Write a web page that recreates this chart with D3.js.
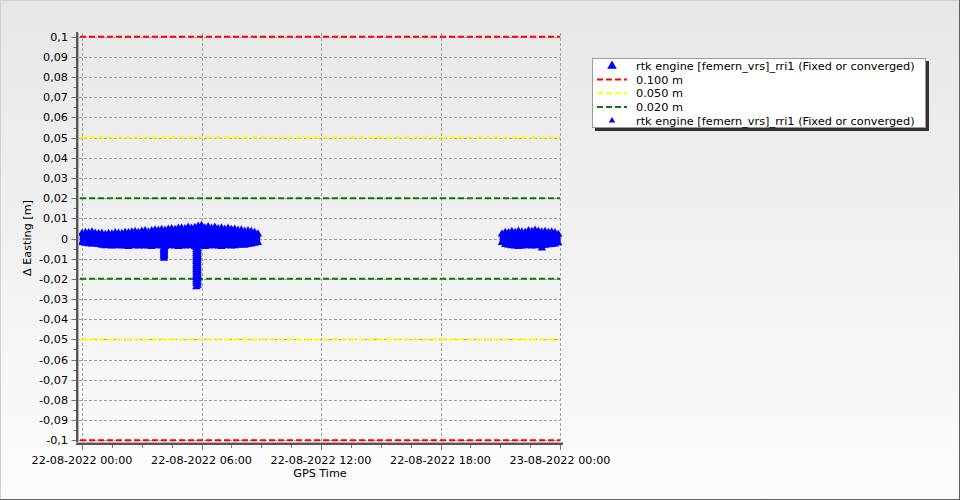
<!DOCTYPE html>
<html><head><meta charset="utf-8">
<script src="https://cdn.jsdelivr.net/npm/d3@7"></script>
<style>html,body{margin:0;padding:0;background:#fff}svg{display:block}text{font-family:"DejaVu Sans",Verdana,sans-serif;fill:#000}</style>
</head><body>
<svg id="c" width="960" height="500"></svg>
<script>
// ---- data ----
const xTickHours = [0, 6, 12, 18, 24];
const xTickLabels = ["22-08-2022 00:00", "22-08-2022 06:00", "22-08-2022 12:00", "22-08-2022 18:00", "23-08-2022 00:00"];
const yTicks = [0.1,0.09,0.08,0.07,0.06,0.05,0.04,0.03,0.02,0.01,0,-0.01,-0.02,-0.03,-0.04,-0.05,-0.06,-0.07,-0.08,-0.09,-0.1];
const seriesName = "rtk engine [femern_vrs]_rri1 (Fixed or converged)";
const thresholds = [0.1, 0.05, 0.02];
const thresholdLabels = ["0.100 m", "0.050 m", "0.020 m"];
const thresholdColors = ["#ff0000", "#ffff00", "#008000"];

// 10-minute bins, envelope (max / min) of Δ Easting [m]
const seg1Start = 0;          // hours
const seg1High = [0.0025,0.0030,0.0028,0.0032,0.0026,0.0024, 0.0026,0.0020,0.0024,0.0022,0.0028,0.0026,
  0.0024,0.0030,0.0028,0.0032,0.0034,0.0030, 0.0036,0.0038,0.0032,0.0038,0.0042,0.0040,
  0.0044,0.0040,0.0046,0.0048,0.0044,0.0050, 0.0052,0.0048,0.0056,0.0050,0.0054,0.0060,
  0.0064,0.0052,0.0058,0.0050,0.0056,0.0048, 0.0052,0.0046,0.0050,0.0044,0.0046,0.0040,
  0.0042,0.0036,0.0038,0.0034,0.0030,0.0022];
const seg1Low = [-0.0020,-0.0024,-0.0026,-0.0028,-0.0026,-0.0030, -0.0034,-0.0036,-0.0032,-0.0038,-0.0036,-0.0034,
  -0.0038,-0.0036,-0.0040,-0.0034,-0.0036,-0.0038, -0.0034,-0.0038,-0.0036,-0.0040,-0.0036,-0.0034,
  -0.0038,-0.0040,-0.0036,-0.0034,-0.0038,-0.0040, -0.0036,-0.0038,-0.0034,-0.0036,-0.0040,-0.0038,
  -0.0036,-0.0040,-0.0038,-0.0034,-0.0036,-0.0038, -0.0040,-0.0036,-0.0034,-0.0038,-0.0036,-0.0034,
  -0.0032,-0.0034,-0.0030,-0.0028,-0.0024,-0.0020];
const seg2Start = 21.083;     // hours
const seg2High = [0.0022,0.0030,0.0028,0.0034,0.0030,0.0036,0.0032,0.0030,0.0038,0.0034,0.0040,0.0036,0.0032,0.0034,0.0030,0.0032,0.0028,0.0020];
const seg2Low = [-0.0020,-0.0030,-0.0034,-0.0036,-0.0038,-0.0040,-0.0038,-0.0036,-0.0034,-0.0038,-0.0036,-0.0034,-0.0036,-0.0034,-0.0032,-0.0030,-0.0028,-0.0022];
const binHours = 1/6;

// individual outlying epochs [hour, value]
const outlierHours = [4.12,4.12,4.12,4.12,4.12,4.12,4.12,4.12,4.12,4.12,4.12,
  5.74,5.74,5.74,5.74,5.74,5.74,5.74,5.74,5.74,5.74,5.74,5.74,5.74,5.74,5.74,5.74,5.74,5.74,5.74,5.74,
  5.81,5.81,5.81,5.81,5.81,5.81,5.81,5.81,5.81,5.81,5.81,5.81,5.81,5.81,5.81,5.81,5.81,5.81,5.81,
  23.09];
const outlierValues = [-0.0045,-0.0050,-0.0055,-0.0060,-0.0065,-0.0070,-0.0075,-0.0080,-0.0085,-0.0090,-0.0098,
  -0.0045,-0.0055,-0.0065,-0.0075,-0.0085,-0.0095,-0.0105,-0.0115,-0.0125,-0.0135,-0.0145,-0.0155,-0.0165,-0.0175,-0.0185,-0.0195,-0.0205,-0.0215,-0.0225,-0.0240,
  -0.0050,-0.0060,-0.0070,-0.0080,-0.0090,-0.0100,-0.0110,-0.0120,-0.0130,-0.0140,-0.0150,-0.0160,-0.0170,-0.0180,-0.0190,-0.0200,-0.0210,-0.0220,-0.0232,
  -0.0048];

// ---- drawing ----
const svg = d3.select("#c");
const W = 960, H = 500;
const defs = svg.append("defs");
const g1 = defs.append("linearGradient").attr("id","bg").attr("x1",0).attr("y1",0).attr("x2",0).attr("y2",1);
g1.append("stop").attr("offset","0%").attr("stop-color","#e7e7e7");
g1.append("stop").attr("offset","100%").attr("stop-color","#fcfcfc");
svg.append("rect").attr("width",W).attr("height",H).attr("fill","url(#bg)");
// frame
svg.append("line").attr("x1",0.5).attr("y1",0).attr("x2",0.5).attr("y2",H).attr("stroke","#d0d0d0");
svg.append("line").attr("x1",0).attr("y1",0.5).attr("x2",W).attr("y2",0.5).attr("stroke","#d0d0d0");
svg.append("line").attr("x1",W-0.5).attr("y1",0).attr("x2",W-0.5).attr("y2",H).attr("stroke","#606060");
svg.append("line").attr("x1",0).attr("y1",H-0.5).attr("x2",W).attr("y2",H-0.5).attr("stroke","#606060");

const x = d3.scaleLinear().domain([0,24]).range([82,560]);
const y = d3.scaleLinear().domain([-0.1,0.1]).range([440.3,36.7]);
const fmtY = v => Math.abs(v) < 1e-9 ? "0" : String(+v.toFixed(2)).replace(".", ",");

// grid
const grid = svg.append("g").attr("stroke","#a0a0a0").attr("stroke-width",1).attr("stroke-dasharray","3,2");
yTicks.forEach(v => grid.append("line").attr("x1",79).attr("x2",560.5)
  .attr("y1",Math.round(y(v))+0.5).attr("y2",Math.round(y(v))+0.5));
xTickHours.forEach(h => grid.append("line").attr("y1",33).attr("y2",443)
  .attr("x1",Math.round(x(h))+0.5).attr("x2",Math.round(x(h))+0.5));

// threshold lines
thresholds.forEach((t,i) => {
  [t,-t].forEach(v => svg.append("line").attr("x1",80).attr("x2",560)
    .attr("y1",y(v)).attr("y2",y(v)).attr("stroke",thresholdColors[i])
    .attr("stroke-width",2).attr("stroke-dasharray","6,3"));
});

// data
const blue = "#0000ff";
const tri = d3.symbol().type(d3.symbolTriangle).size(30);
const dataG = svg.append("g");
function drawSeg(start, hi, lo){
  const w = x(binHours) - x(0);
  hi.forEach((h,i) => {
    const t = start + i*binHours;
    dataG.append("rect").attr("x",x(t)-w/2-0.6).attr("width",w+1.2)
      .attr("y",y(h)).attr("height",y(lo[i])-y(h)).attr("fill",blue);
    dataG.append("path").attr("d",tri()).attr("fill",blue).attr("transform",`translate(${x(t)},${y(h)})`);
    dataG.append("path").attr("d",tri()).attr("fill",blue).attr("transform",`translate(${x(t)},${y(lo[i])})`);
  });
}
drawSeg(seg1Start, seg1High, seg1Low);
drawSeg(seg2Start, seg2High, seg2Low);
outlierHours.forEach((h,i) => dataG.append("path").attr("d",tri()).attr("fill",blue)
  .attr("transform",`translate(${x(h)},${y(outlierValues[i])})`));

// axes
svg.append("line").attr("x1",78.5).attr("x2",78.5).attr("y1",33).attr("y2",445).attr("stroke","#b0b0b0").attr("stroke-width",1);
svg.append("line").attr("x1",77).attr("x2",77).attr("y1",32).attr("y2",445).attr("stroke","#555").attr("stroke-width",2);
svg.append("line").attr("x1",76).attr("x2",563).attr("y1",442.5).attr("y2",442.5).attr("stroke","#b0b0b0").attr("stroke-width",1);
svg.append("line").attr("x1",76).attr("x2",563).attr("y1",444).attr("y2",444).attr("stroke","#555").attr("stroke-width",2);

const tk = svg.append("g").attr("stroke","#777").attr("stroke-width",1);
yTicks.forEach(v => tk.append("line").attr("x1",71.5).attr("x2",76).attr("y1",Math.round(y(v))+0.5).attr("y2",Math.round(y(v))+0.5));
yTicks.slice(0,-1).forEach(v => { const m = v - 0.005;
  tk.append("line").attr("x1",73.5).attr("x2",76).attr("y1",Math.round(y(m))+0.5).attr("y2",Math.round(y(m))+0.5); });
xTickHours.forEach(h => tk.append("line").attr("x1",Math.round(x(h))+0.5).attr("x2",Math.round(x(h))+0.5).attr("y1",445).attr("y2",450));
xTickHours.slice(0,-1).forEach(h => [1.5,3,4.5].forEach(d =>
  tk.append("line").attr("x1",Math.round(x(h+d))+0.5).attr("x2",Math.round(x(h+d))+0.5).attr("y1",445).attr("y2",448)));

// tick labels
svg.append("g").selectAll("text").data(yTicks).join("text")
  .attr("x",68).attr("y",d=>y(d)).attr("dy","0.36em").attr("text-anchor","end")
  .attr("font-size",11.2).text(fmtY);
svg.append("g").selectAll("text").data(xTickHours).join("text")
  .attr("x",d=>x(d)).attr("y",463.5).attr("text-anchor","middle")
  .attr("font-size",11.2).text((d,i)=>xTickLabels[i]);

// axis titles
svg.append("text").attr("x",320).attr("y",477).attr("text-anchor","middle").attr("font-size",11.2).text("GPS Time");
svg.append("text").attr("transform","translate(31,238) rotate(-90)").attr("text-anchor","middle").attr("font-size",11.2).text("Δ Easting [m]");

// legend
const lg = svg.append("g");
lg.append("rect").attr("x",595).attr("y",61).attr("width",334).attr("height",70).attr("fill","#333");
lg.append("rect").attr("x",592.5).attr("y",58.5).attr("width",333).attr("height",69).attr("fill","#fff").attr("stroke","#9a9a9a");
const rowY = [66, 79.5, 93.3, 107, 120.7];
const lx = 636;
lg.append("path").attr("d",d3.symbol().type(d3.symbolTriangle).size(40)()).attr("fill",blue).attr("transform",`translate(612,${rowY[0]})`);
lg.append("text").attr("x",lx).attr("y",rowY[0]).attr("dy","0.36em").attr("font-size",11.3).text(seriesName);
thresholdLabels.forEach((l,i) => {
  lg.append("line").attr("x1",597).attr("x2",627).attr("y1",rowY[i+1]).attr("y2",rowY[i+1])
    .attr("stroke",thresholdColors[i]).attr("stroke-width",2).attr("stroke-dasharray","6,3");
  lg.append("text").attr("x",lx).attr("y",rowY[i+1]).attr("dy","0.36em").attr("font-size",11.3).text(l);
});
lg.append("path").attr("d",d3.symbol().type(d3.symbolTriangle).size(18)()).attr("fill",blue).attr("transform",`translate(612,${rowY[4]})`);
lg.append("text").attr("x",lx).attr("y",rowY[4]).attr("dy","0.36em").attr("font-size",11.3).text(seriesName);
</script>
</body></html>
